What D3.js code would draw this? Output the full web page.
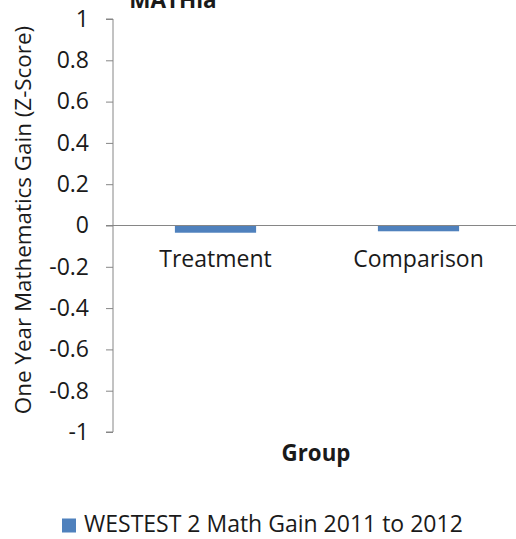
<!DOCTYPE html>
<html><head><meta charset="utf-8">
<script src="https://cdn.jsdelivr.net/npm/d3@7"></script>
<style>body{margin:0;background:#fff}svg{display:block}text{font-family:"Open Sans",sans-serif}</style>
</head><body>
<script>
const categories = ["Treatment", "Comparison"];
const values = [-0.035, -0.028];
const seriesName = "WESTEST 2 Math Gain 2011 to 2012";
const yTicks = [1, 0.8, 0.6, 0.4, 0.2, 0, -0.2, -0.4, -0.6, -0.8, -1];
const chartTitle = "MATHia";
const xTitle = "Group";
const yTitle = "One Year Mathematics Gain (Z-Score)";

(function () {
const W = 516, H = 539;
const svg = d3.select("body").append("svg").attr("width", W).attr("height", H);
const mLeft = 113, mRight = 519, mTop = 19, mBottom = 432;
const FS = 23;
const txt = "#1a1a1a";
const y = d3.scaleLinear().domain([-1, 1]).range([mBottom, mTop]);
const x = d3.scaleBand().domain(categories).range([mLeft, mRight]).paddingInner(0).paddingOuter(0);
const color = "#4F81BD", axisColor = "#868686";

// bars
const bw = x.step() * 0.4;
svg.selectAll("rect.bar").data(categories).enter().append("rect")
  .attr("x", (d) => x(d) + x.bandwidth() / 2 - bw / 2 + 1)
  .attr("width", bw)
  .attr("y", (d, i) => y(Math.max(0, values[i])))
  .attr("height", (d, i) => Math.abs(y(values[i]) - y(0)))
  .attr("fill", color);

// y axis
const yAxis = d3.axisLeft(y).tickValues(yTicks).tickSize(7).tickPadding(17)
  .tickFormat(d => String(+d.toFixed(1)));
const gy = svg.append("g").attr("transform", `translate(${mLeft},0)`).call(yAxis);
gy.select(".domain").attr("stroke", axisColor).attr("d", `M-7,${mTop}H0V${mBottom}H-7`);
gy.selectAll(".tick line").attr("stroke", axisColor);
gy.selectAll("text").attr("font-size", FS).attr("fill", txt).attr("font-family", "Open Sans, sans-serif");

// x axis at zero
const xAxis = d3.axisBottom(x).tickSize(0).tickPadding(0);
const gx = svg.append("g").attr("transform", `translate(0,${y(0)})`).call(xAxis);
gx.select(".domain").attr("stroke", axisColor).attr("d", `M${mLeft - 7},0H${mRight}`);
gx.selectAll("text").attr("font-size", FS).attr("fill", txt).attr("font-family", "Open Sans, sans-serif")
  .attr("dx", 1).attr("dy", null).attr("y", 267 - y(0));

// titles
svg.append("text").attr("x", 173).attr("y", 8).attr("text-anchor", "middle")
  .attr("font-weight", "bold").attr("font-size", 22.5).attr("fill", txt).text(chartTitle);
svg.append("text").attr("x", 316).attr("y", 461).attr("text-anchor", "middle")
  .attr("font-weight", "bold").attr("font-size", 22.3).attr("fill", txt).text(xTitle);
svg.append("text").attr("transform", "translate(31,220) rotate(-90)").attr("text-anchor", "middle")
  .attr("font-size", 22.4).attr("fill", txt).text(yTitle);

// legend
svg.append("rect").attr("x", 62).attr("y", 518.5).attr("width", 14).attr("height", 14).attr("fill", color);
svg.append("text").attr("x", 84).attr("y", 532).attr("font-size", FS).attr("fill", txt).text(seriesName);
})();
</script>
</body></html>
